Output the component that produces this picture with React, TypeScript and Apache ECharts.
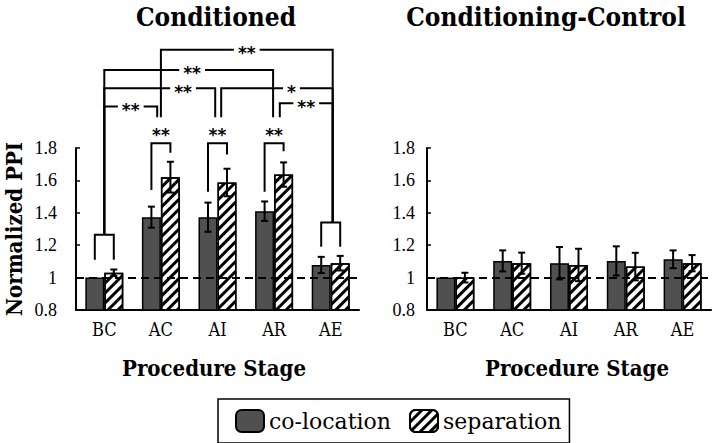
import React, { useEffect, useRef } from 'react';
import * as echarts from 'echarts';

// ---------- data ----------
const categories = ['BC', 'AC', 'AI', 'AR', 'AE'];
const seriesNames = ['co-location', 'separation'];
const panelTitles = ['Conditioned', 'Conditioning-Control'];
const xAxisTitle = 'Procedure Stage';
const yAxisTitle = 'Normalized PPI';
const yMin = 0.8;
const yMax = 1.8;
const yStep = 0.2;
const referenceLevel = 1;

const condColoc = [1.0, 1.373, 1.373, 1.41, 1.078];
const condColocErr = [0, 0.065, 0.09, 0.06, 0.05];
const condSep = [1.03, 1.62, 1.587, 1.636, 1.089];
const condSepErr = [0.02, 0.095, 0.085, 0.075, 0.045];

const ctrlColoc = [1.0, 1.103, 1.089, 1.103, 1.113];
const ctrlColocErr = [0, 0.065, 0.1, 0.09, 0.055];
const ctrlSep = [1.0, 1.089, 1.078, 1.068, 1.089];
const ctrlSepErr = [0.03, 0.065, 0.1, 0.085, 0.05];

// significance (Conditioned panel)
const pairLabels = ['', '**', '**', '**', ''];
const crossFrom = ['AC', 'BC', 'BC', 'AI', 'BC', 'AR'];
const crossTo = ['AE', 'AR', 'AI', 'AE', 'AC', 'AE'];
const crossLabels = ['**', '**', '**', '*', '**', '**'];

// ---------- annotation layout (positions, not data) ----------
const pairTop = [1.264, 1.83, 1.83, 1.83, 1.34];
const pairLegL = [1.11, 1.54, 1.53, 1.53, 1.19];
const pairLegR = [1.11, 1.77, 1.76, 1.78, 1.19];
const pairLabelY = 1.9;
const stemBottom = 1.99;
const crossLevel = [2.406, 2.282, 2.169, 2.169, 2.056, 2.077];
const crossOffFrom = [0, 0, 0, 3.7, 0, 5.7];
const crossOffTo = [2, -1, -2.3, 2, -3.7, 2];
const crossLabelT = [0.5, 0.52, 0.71, 0.63, 0.5, 0.5];

const BAR_W = 19;
const DARK = '#505050';
const SERIF = '"DejaVu Serif Condensed", "DejaVu Serif", serif';
const TICKFONT = '"Liberation Serif", "Times New Roman", serif';

const hatchDecal = {
  symbol: 'rect',
  symbolSize: 1,
  color: '#000',
  backgroundColor: '#fff',
  dashArrayX: [1, 0],
  dashArrayY: [2.5, 4],
  rotation: -Math.PI / 4,
};

function errRender(sign: number) {
  return (params: any, api: any) => {
    const i = api.value(0);
    const v = api.value(1);
    const e = api.value(2);
    if (!e) return { type: 'group', children: [] };
    const c = api.coord([i, v]);
    const x = c[0] + (sign * BAR_W) / 2;
    const yt = api.coord([i, v + e])[1];
    const yb = api.coord([i, v - e])[1];
    const st = { stroke: '#000', lineWidth: 2 };
    return {
      type: 'group',
      children: [
        { type: 'line', shape: { x1: x, y1: yt, x2: x, y2: yb }, style: st },
        { type: 'line', shape: { x1: x - 3.5, y1: yt, x2: x + 3.5, y2: yt }, style: st },
        { type: 'line', shape: { x1: x - 3.5, y1: yb, x2: x + 3.5, y2: yb }, style: st },
      ],
    };
  };
}

function bracketRender(params: any, api: any) {
  if (params.dataIndex !== 0) return { type: 'group', children: [] };
  const cx = (i: number) => api.coord([i, 1])[0];
  const py = (v: number) => api.coord([0, v])[1];
  const st = { stroke: '#000', lineWidth: 2, fill: null };
  const children: any[] = [];
  const star = (text: string, x: number, y: number, bg: boolean) => ({
    type: 'text',
    x,
    y: y + 3.5,
    z2: 10,
    style: {
      text,
      fontSize: 17,
      lineHeight: 12,
      fontWeight: 'bold',
      fontFamily: '"DejaVu Sans", sans-serif',
      fill: '#000',
      align: 'center',
      verticalAlign: 'middle',
      backgroundColor: bg ? '#fff' : 'transparent',
      padding: [0, 4],
    },
  });
  categories.forEach((_, i) => {
    const x = cx(i);
    const h = BAR_W / 2;
    children.push({
      type: 'polyline',
      shape: {
        points: [
          [x - h, py(pairLegL[i])],
          [x - h, py(pairTop[i])],
          [x + h, py(pairTop[i])],
          [x + h, py(pairLegR[i])],
        ],
      },
      style: st,
    });
    if (pairLabels[i]) children.push(star(pairLabels[i], x, py(pairLabelY), false));
  });
  const bottomFor = (i: number) => (pairLabels[i] ? stemBottom : pairTop[i]);
  crossFrom.forEach((a, k) => {
    const ia = categories.indexOf(a);
    const ib = categories.indexOf(crossTo[k]);
    const xa = cx(ia) + crossOffFrom[k];
    const xb = cx(ib) + crossOffTo[k];
    const yl = py(crossLevel[k]);
    children.push({
      type: 'polyline',
      shape: {
        points: [
          [xa, py(bottomFor(ia))],
          [xa, yl],
          [xb, yl],
          [xb, py(bottomFor(ib))],
        ],
      },
      style: st,
    });
    children.push(star(crossLabels[k], xa + crossLabelT[k] * (xb - xa), yl, true));
  });
  return { type: 'group', children };
}

export default function App() {
  const ref = useRef<HTMLDivElement>(null);
  useEffect(() => {
    if (!ref.current) return;
    const chart = echarts.init(ref.current, undefined, { renderer: 'svg' });
    const grids = [
      { left: 76, top: 148, width: 283, height: 162 },
      { left: 427, top: 148, width: 284, height: 162 },
    ];
    const labelMargins = [19, 12];
    const xAxis = grids.map((_, g) => ({
      type: 'category',
      gridIndex: g,
      data: categories,
      axisLine: { lineStyle: { color: '#000', width: 2 } },
      axisTick: { show: false },
      axisLabel: { color: '#000', fontSize: 18, fontFamily: SERIF, margin: 10 },
    }));
    const yAxis = grids.map((_, g) => ({
      type: 'value',
      gridIndex: g,
      min: yMin,
      max: yMax,
      interval: yStep,
      axisLine: { show: true, lineStyle: { color: '#000', width: 2 } },
      axisTick: { show: true, inside: true, length: 4, lineStyle: { color: '#000', width: 1.5 } },
      splitLine: { show: false },
      axisLabel: { color: '#000', fontSize: 18, fontFamily: TICKFONT, margin: labelMargins[g] },
    }));
    const panels = [
      [condColoc, condColocErr, condSep, condSepErr],
      [ctrlColoc, ctrlColocErr, ctrlSep, ctrlSepErr],
    ];
    const series: any[] = [];
    panels.forEach((p, g) => {
      series.push({
        type: 'bar',
        name: seriesNames[0],
        xAxisIndex: g,
        yAxisIndex: g,
        data: p[0],
        barWidth: BAR_W,
        barGap: '0%',
        itemStyle: { color: DARK, borderColor: '#000', borderWidth: 1.5 },
      });
      series.push({
        type: 'bar',
        name: seriesNames[1],
        xAxisIndex: g,
        yAxisIndex: g,
        data: p[2],
        barWidth: BAR_W,
        barGap: '0%',
        itemStyle: { color: '#fff', borderColor: '#000', borderWidth: 1.5, decal: hatchDecal },
        markLine: {
          silent: true,
          symbol: 'none',
          label: { show: false },
          lineStyle: { color: '#000', width: 2, type: [8, 5] },
          data: [{ yAxis: referenceLevel }],
        },
      });
      series.push({
        type: 'custom',
        xAxisIndex: g,
        yAxisIndex: g,
        z: 4,
        renderItem: errRender(-1),
        encode: { x: 0, y: 1 },
        data: p[0].map((v, i) => [i, v, p[1][i]]),
      });
      series.push({
        type: 'custom',
        xAxisIndex: g,
        yAxisIndex: g,
        z: 4,
        renderItem: errRender(1),
        encode: { x: 0, y: 1 },
        data: p[2].map((v, i) => [i, v, p[3][i]]),
      });
    });
    series.push({
      type: 'custom',
      xAxisIndex: 0,
      yAxisIndex: 0,
      z: 5,
      clip: false,
      renderItem: bracketRender,
      encode: { x: 0, y: 1 },
      data: [[0, referenceLevel]],
    });

    const bold = (text: string, x: number, y: number, size: number, rotation = 0) => ({
      type: 'text',
      x,
      y,
      rotation,
      style: {
        text,
        fontSize: size,
        fontWeight: 'bold',
        fontFamily: SERIF,
        fill: '#000',
        align: 'center',
        verticalAlign: 'middle',
      },
    });

    chart.setOption({
      animation: false,
      backgroundColor: '#fff',
      grid: grids,
      xAxis,
      yAxis,
      series,
      legend: {
        data: seriesNames,
        left: 218,
        top: 399,
        selectedMode: false,
        itemWidth: 28,
        itemHeight: 22,
        itemGap: 18,
        padding: [10, 8, 10, 17],
        borderColor: '#000',
        borderWidth: 1.5,
        textStyle: { color: '#000', fontSize: 22, fontFamily: '"DejaVu Serif", serif' },
      },
      graphic: [
        bold(panelTitles[0], 216, 17, 26),
        bold(panelTitles[1], 546, 17, 26),
        bold(xAxisTitle, 214, 368, 22),
        bold(xAxisTitle, 577, 368, 22),
        bold(yAxisTitle, 14, 229, 22, Math.PI / 2),
      ],
    });
    return () => chart.dispose();
  }, []);
  return (
    <div
      ref={ref}
      style={{ position: 'fixed', left: 0, top: 0, width: 720, height: 443, background: '#fff' }}
    />
  );
}
